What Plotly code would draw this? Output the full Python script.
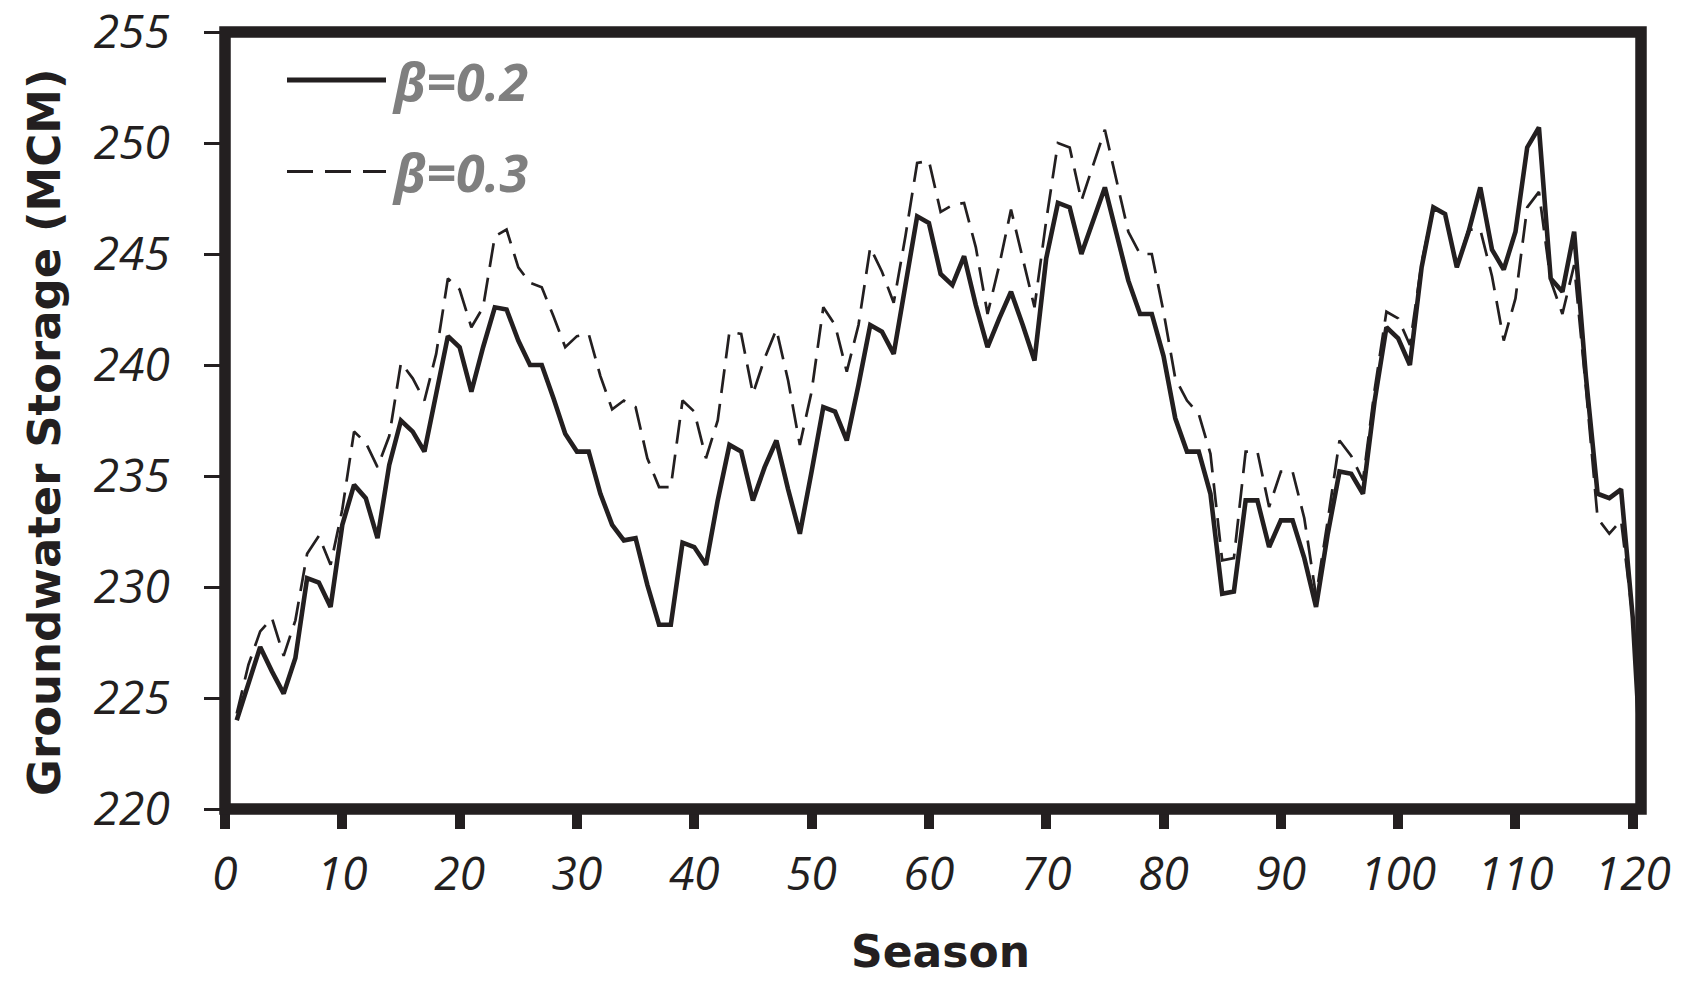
import plotly.graph_objects as go

seasons = list(range(1, 122))

storage_beta_02 = [
    224.0, 225.7, 227.3, 226.2, 225.2, 226.8, 230.4, 230.2, 229.1, 232.8,
    234.6, 234.0, 232.2, 235.5, 237.5, 237.0, 236.1, 238.7, 241.3, 240.8,
    238.8, 240.8, 242.6, 242.5, 241.1, 240.0, 240.0, 238.5, 236.9, 236.1,
    236.1, 234.2, 232.8, 232.1, 232.2, 230.1, 228.3, 228.3, 232.0, 231.8,
    231.0, 233.9, 236.4, 236.1, 233.9, 235.4, 236.6, 234.4, 232.4, 235.2,
    238.1, 237.9, 236.6, 239.1, 241.8, 241.5, 240.5, 243.6, 246.7, 246.4,
    244.1, 243.6, 244.9, 242.7, 240.8, 242.1, 243.3, 241.8, 240.2, 244.8,
    247.3, 247.1, 245.0, 246.5, 248.0, 245.9, 243.8, 242.3, 242.3, 240.4,
    237.6, 236.1, 236.1, 234.2, 229.7, 229.8, 233.9, 233.9, 231.8, 233.0,
    233.0, 231.3, 229.1, 232.4, 235.2, 235.1, 234.2, 238.4, 241.7, 241.2,
    240.0, 244.4, 247.1, 246.8, 244.4, 246.0, 248.0, 245.2, 244.3, 246.0,
    249.8, 250.7, 243.9, 243.3, 246.0, 239.5, 234.2, 234.0, 234.4, 228.6, 219.4,
]

storage_beta_03 = [
    224.3, 226.5, 228.0, 228.6, 226.9, 228.5, 231.5, 232.3, 231.0, 233.5,
    237.0, 236.5, 235.4, 236.8, 240.1, 239.4, 238.4, 240.5, 243.9, 243.4,
    241.7, 242.6, 245.8, 246.1, 244.4, 243.7, 243.5, 242.2, 240.8, 241.3,
    241.4, 239.5, 238.0, 238.4, 238.1, 235.8, 234.5, 234.5, 238.4, 237.9,
    235.8, 237.5, 241.5, 241.4, 238.7, 240.3, 241.6, 239.3, 236.4, 238.8,
    242.6, 241.8, 239.7, 241.8, 245.3, 244.2, 242.8, 245.8, 249.1, 249.2,
    246.9, 247.2, 247.3, 245.3, 242.3, 244.5, 247.0, 244.8, 242.6, 246.5,
    250.0, 249.8, 247.4, 249.0, 250.6, 248.3, 246.0, 245.0, 245.0, 242.4,
    239.4, 238.4, 237.8, 236.0, 231.2, 231.3, 236.1, 236.1, 233.6, 235.2,
    235.2, 233.1, 229.6, 233.0, 236.6, 235.9, 234.8, 238.9, 242.4, 242.1,
    240.9, 244.6, 247.1, 246.8, 244.4, 246.1, 246.1, 244.0, 241.1, 243.0,
    247.1, 247.8, 243.8, 242.3, 244.5, 239.0, 233.1, 232.4, 233.0, 228.6, 219.4,
]

x_tick_values = list(range(0, 121, 10))
y_tick_values = list(range(220, 256, 5))
series_names = ["\u03b2=0.2", "\u03b2=0.3"]

INK = "#231f20"
W, H = 1681, 981
L, R, T, B = 225, 40, 32, 172
PW = W - L - R
PH = H - T - B


def px_x(px):
    return (px - L) / PW


def px_y(py):
    return (H - B - py) / PH


fig = go.Figure()

fig.add_trace(go.Scatter(
    x=seasons, y=storage_beta_03, mode="lines", name=series_names[1],
    line=dict(color=INK, width=2.7, dash="24px,11px"), showlegend=False,
))
fig.add_trace(go.Scatter(
    x=seasons, y=storage_beta_02, mode="lines", name=series_names[0],
    line=dict(color=INK, width=4.6), showlegend=False,
))

tick_font = dict(family="Open Sans", size=46, color=INK, style="italic")

fig.update_xaxes(
    range=[0, 120.7], tickvals=x_tick_values, ticktext=[str(v) for v in x_tick_values],
    ticks="outside", ticklen=19, tickwidth=10, tickcolor=INK,
    showgrid=False, zeroline=False, showline=False, tickfont=tick_font,
    ticklabelstandoff=6, ticklabeloverflow="allow", automargin=False,
)
fig.update_yaxes(
    range=[220, 255], tickvals=y_tick_values, ticktext=[str(v) for v in y_tick_values],
    ticks="outside", ticklen=20, tickwidth=3.3, tickcolor=INK,
    showgrid=False, zeroline=False, showline=False, tickfont=tick_font,
    ticklabelstandoff=25, ticklabeloverflow="allow", automargin=False,
)

shapes = [
    dict(type="rect", xref="paper", yref="paper", x0=0, x1=1, y0=0, y1=1,
         line=dict(color=INK, width=11.5), fillcolor="rgba(0,0,0,0)", layer="above"),
    dict(type="line", xref="paper", yref="paper", x0=px_x(287), x1=px_x(386),
         y0=px_y(80), y1=px_y(80), line=dict(color=INK, width=5)),
    dict(type="line", xref="paper", yref="paper", x0=px_x(287), x1=px_x(386),
         y0=px_y(171.5), y1=px_y(171.5), line=dict(color=INK, width=3, dash="26px,12px")),
]

legend_font = dict(family="Open Sans", size=52, color="#7f7f7f", style="italic", weight="bold")
annotations = [
    dict(text=series_names[0], xref="paper", yref="paper", x=px_x(390), y=px_y(80),
         xanchor="left", yanchor="middle", showarrow=False, font=legend_font),
    dict(text=series_names[1], xref="paper", yref="paper", x=px_x(390), y=px_y(171.5),
         xanchor="left", yanchor="middle", showarrow=False, font=legend_font),
    dict(text="<b>Groundwater Storage (MCM)</b>", xref="paper", yref="paper",
         x=px_x(44), y=px_y(432), xanchor="center", yanchor="middle", textangle=-90,
         showarrow=False, font=dict(family="DejaVu Sans", size=45, color=INK)),
    dict(text="<b>Season</b>", xref="paper", yref="paper",
         x=px_x(940), y=px_y(951), xanchor="center", yanchor="middle",
         showarrow=False, font=dict(family="DejaVu Sans", size=44, color=INK)),
]

fig.update_layout(
    width=W, height=H,
    margin=dict(l=L, r=R, t=T, b=B, pad=0),
    paper_bgcolor="white", plot_bgcolor="white",
    shapes=shapes, annotations=annotations, showlegend=False,
)

fig.write_html(
    "out.html",
    config={"displayModeBar": False},
    post_script="document.body.style.margin='0';document.body.style.overflow='hidden';",
)
